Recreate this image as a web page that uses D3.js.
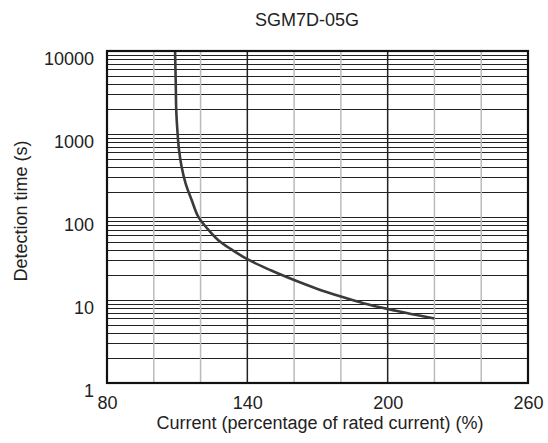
<!DOCTYPE html>
<html><head><meta charset="utf-8">
<script src="https://cdn.jsdelivr.net/npm/d3@7"></script>
<style>
body{margin:0;background:#fff;}
text{font-family:"Liberation Sans",Arial,sans-serif;fill:#222;}
</style></head>
<body><svg id="c" width="548" height="443"></svg>
<script>
const title = "SGM7D-05G";
const xLabel = "Current (percentage of rated current) (%)";
const yLabel = "Detection time (s)";
const xTickLabels = [80, 140, 200, 260];
const xMajorGrid = [140, 200];
const xMinorGrid = [100, 120, 160, 180, 220, 240];
const yTickLabels = [1, 10, 100, 1000, 10000];
const current = [109.1, 109.4, 109.6, 110.2, 110.8, 111.9, 113.6, 116.2, 119, 123, 127.6, 133, 140, 150, 160, 170, 180, 190, 200, 210, 220];
const detTime = [10000, 4000, 1950, 1000, 640, 404, 255, 160, 101, 72, 52.6, 41, 31, 22.8, 17.4, 13.6, 11, 9.1, 7.8, 6.8, 6.0];

const svg = d3.select("#c");
const x = d3.scaleLinear().domain([80, 260]).range([107, 528]);
const y = d3.scaleLog().domain([1, 10000]).range([383, 51]);

const hLines = [];
for (let d = 1; d < 10000; d *= 10) for (let k = 2; k <= 9; k++) hLines.push(d * k);
hLines.push(10, 100, 1000);
svg.append("g").selectAll("line").data(hLines).join("line")
  .attr("x1", x(80)).attr("x2", x(260))
  .attr("y1", d => Math.round(y(d)) + 0.5).attr("y2", d => Math.round(y(d)) + 0.5)
  .attr("stroke", "#222").attr("stroke-width", 1);

svg.append("g").selectAll("line").data(xMinorGrid).join("line")
  .attr("x1", d => x(d)).attr("x2", d => x(d)).attr("y1", y(10000)).attr("y2", y(1))
  .attr("stroke", "#bbb").attr("stroke-width", 1.5);
svg.append("g").selectAll("line").data(xMajorGrid).join("line")
  .attr("x1", d => x(d)).attr("x2", d => x(d)).attr("y1", y(10000)).attr("y2", y(1))
  .attr("stroke", "#222").attr("stroke-width", 1.5);

const pts = current.map((c, i) => [c, detTime[i]]);
svg.append("path").datum(pts)
  .attr("d", d3.line().x(d => x(d[0])).y(d => y(d[1])).curve(d3.curveCatmullRom.alpha(0.5)))
  .attr("fill", "none").attr("stroke", "#3a3a3a").attr("stroke-width", 2.6);

svg.append("rect").attr("x", x(80)).attr("y", y(10000))
  .attr("width", x(260) - x(80)).attr("height", y(1) - y(10000))
  .attr("fill", "none").attr("stroke", "#111").attr("stroke-width", 2.2);

const yAxis = d3.axisLeft(y).tickValues(yTickLabels).tickFormat(d3.format("d")).tickSize(0).tickPadding(13);
const ya = svg.append("g").attr("transform", `translate(${x(80)},0)`).call(yAxis);
ya.select(".domain").remove();
ya.selectAll("text").attr("font-size", 18).attr("dy", "0.32em").attr("y", 8)
  .attr("font-family", "Liberation Sans, Arial, sans-serif").attr("fill", "#222");

const xAxis = d3.axisBottom(x).tickValues(xTickLabels).tickSize(0).tickPadding(13);
const xa = svg.append("g").attr("transform", `translate(0,${y(1)})`).call(xAxis);
xa.select(".domain").remove();
xa.selectAll("text").attr("font-size", 18)
  .attr("font-family", "Liberation Sans, Arial, sans-serif").attr("fill", "#222");

svg.append("text").attr("x", 307).attr("y", 26).attr("text-anchor", "middle")
  .attr("font-size", 18).text(title);
svg.append("text").attr("x", 320).attr("y", 429).attr("text-anchor", "middle")
  .attr("font-size", 18).text(xLabel);
svg.append("text").attr("transform", "translate(27,211) rotate(-90)").attr("text-anchor", "middle")
  .attr("font-size", 18).text(yLabel);
</script></body></html>
